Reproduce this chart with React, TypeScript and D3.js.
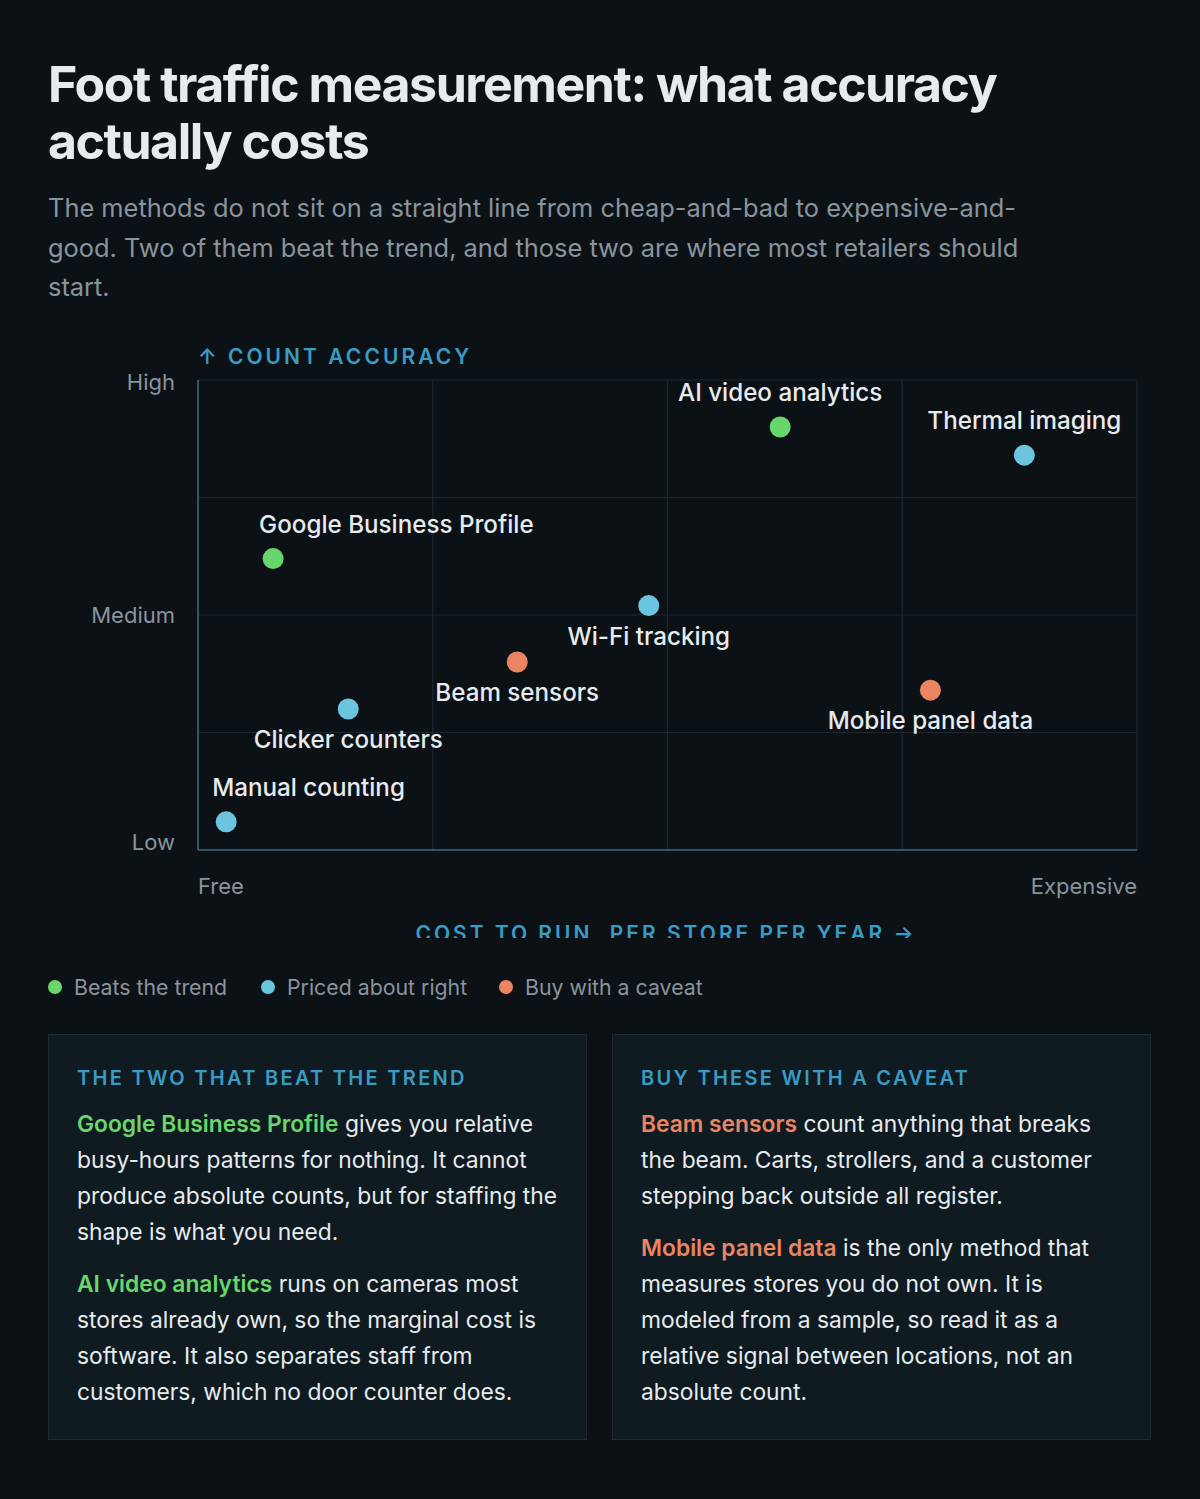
import React from "react";
import * as d3 from "d3";

const methods = [
  "AI video analytics",
  "Thermal imaging",
  "Google Business Profile",
  "Wi-Fi tracking",
  "Beam sensors",
  "Mobile panel data",
  "Clicker counters",
  "Manual counting",
];
const costValues = [62, 88, 8, 48, 34, 78, 16, 3];
const accuracyValues = [90, 84, 62, 52, 40, 34, 30, 6];
const verdicts = ["beats", "about", "beats", "about", "caveat", "caveat", "about", "about"];

const verdictKeys = ["beats", "about", "caveat"];
const verdictLabels = ["Beats the trend", "Priced about right", "Buy with a caveat"];

const yTickLabels = ["Low", "Medium", "High"];
const yTickValues = [0, 50, 100];
const xTickLabels = ["Free", "Expensive"];

const titleLines = ["Foot traffic measurement: what accuracy", "actually costs"];
const subtitleLines = [
  "The methods do not sit on a straight line from cheap-and-bad to expensive-and-",
  "good. Two of them beat the trend, and those two are where most retailers should",
  "start.",
];

const leftCardTitle = "THE TWO THAT BEAT THE TREND";
const leftCardParas = [
  { lead: "Google Business Profile", lines: [" gives you relative", "busy-hours patterns for nothing. It cannot", "produce absolute counts, but for staffing the", "shape is what you need."] },
  { lead: "AI video analytics", lines: [" runs on cameras most", "stores already own, so the marginal cost is", "software. It also separates staff from", "customers, which no door counter does."] },
];
const rightCardTitle = "BUY THESE WITH A CAVEAT";
const rightCardParas = [
  { lead: "Beam sensors", lines: [" count anything that breaks", "the beam. Carts, strollers, and a customer", "stepping back outside all register."] },
  { lead: "Mobile panel data", lines: [" is the only method that", "measures stores you do not own. It is", "modeled from a sample, so read it as a", "relative signal between locations, not an", "absolute count."] },
];

// label placement per method: "above", "aboveStart", "below"
const labelPlacement = ["above", "above", "aboveStart", "below", "below", "below", "below", "aboveStart"];

const COLORS: Record<string, string> = {
  beats: "#69d66b",
  about: "#6cc5df",
  caveat: "#e98562",
};

const FONT = "Inter, 'Noto Sans', sans-serif";
const BG = "#0c1115";
const TEXT = "#e6ebef";
const MUTED = "#8a949d";
const ACCENT = "#3a9cc4";

export default function App() {
  const W = 1200;
  const H = 1499;
  const plot = { left: 198, right: 1137, top: 380, bottom: 850 };
  const x = d3.scaleLinear().domain([0, 100]).range([plot.left, plot.right]);
  const y = d3.scaleLinear().domain([0, 100]).range([plot.bottom, plot.top]);
  const gridTicks = [0, 25, 50, 75, 100];
  const yTickOffsets = [0, 8, 10];

  const renderCard = (cx: number, title: string, paras: typeof leftCardParas, color: string) => {
    let lineIdx = 0;
    const out: React.ReactNode[] = [];
    paras.forEach((p, pi) => {
      p.lines.forEach((ln, li) => {
        const baseY = 1132 + lineIdx * 36 + pi * 16;
        out.push(
          <text key={`${pi}-${li}`} x={cx + 29} y={baseY} fontSize={22.8} fill={TEXT} fontFamily={FONT}>
            {li === 0 ? (
              <>
                <tspan fill={color} fontWeight={600}>{p.lead}</tspan>
                <tspan>{ln}</tspan>
              </>
            ) : (
              ln
            )}
          </text>
        );
        lineIdx++;
      });
    });
    return (
      <g>
        <rect x={cx + 0.5} y={1034.5} width={538} height={405} fill="#101b21" stroke="#1c2a31" strokeWidth={1} />
        <text x={cx + 29} y={1085} fontSize={20} fontWeight={600} fill={ACCENT} letterSpacing={2.3} fontFamily={FONT}>
          {title}
        </text>
        {out}
      </g>
    );
  };

  return (
    <div style={{ position: "absolute", left: 0, top: 0, width: W, height: H, background: BG }}>
      <svg width={W} height={H} viewBox={`0 0 ${W} ${H}`} style={{ display: "block" }}>
        <rect x={0} y={0} width={W} height={H} fill={BG} />
        <defs>
          <clipPath id="chartClip">
            <rect x={0} y={300} width={W} height={638} />
          </clipPath>
        </defs>

        {titleLines.map((t, i) => (
          <text key={t} x={48} y={102 + i * 57} fontSize={50} fontWeight={700} fill={TEXT} letterSpacing={-1.45} fontFamily={FONT}>
            {t}
          </text>
        ))}
        {subtitleLines.map((t, i) => (
          <text key={t} x={48} y={217 + i * 39.5} fontSize={25.4} fill={MUTED} fontFamily={FONT}>
            {t}
          </text>
        ))}

        <g clipPath="url(#chartClip)">
          <text x={198} y={364} fontSize={21} fontWeight={600} fill={ACCENT} letterSpacing={3.05} fontFamily={FONT}>
            ↑ COUNT ACCURACY
          </text>

          {gridTicks.map((t) => (
            <line key={`gx${t}`} x1={x(t)} x2={x(t)} y1={plot.top} y2={plot.bottom} stroke="#1d282e" strokeWidth={1.2} />
          ))}
          {gridTicks.map((t) => (
            <line key={`gy${t}`} x1={plot.left} x2={plot.right} y1={y(t)} y2={y(t)} stroke="#1d282e" strokeWidth={1.2} />
          ))}
          <line x1={plot.left} x2={plot.left} y1={plot.top} y2={plot.bottom} stroke="#2e5569" strokeWidth={2} />
          <line x1={plot.left} x2={plot.right} y1={plot.bottom} y2={plot.bottom} stroke="#2e5569" strokeWidth={2} />

          {yTickLabels.map((l, i) => (
            <text key={l} x={175} y={y(yTickValues[i]) + yTickOffsets[i]} textAnchor="end" fontSize={22} fill={MUTED} fontFamily={FONT}>
              {l}
            </text>
          ))}
          <text x={x(0)} y={894} fontSize={22} fill={MUTED} fontFamily={FONT}>
            {xTickLabels[0]}
          </text>
          <text x={x(100)} y={894} textAnchor="end" fontSize={22} fill={MUTED} fontFamily={FONT}>
            {xTickLabels[1]}
          </text>

          {methods.map((m, i) => {
            const px = x(costValues[i]);
            const py = y(accuracyValues[i]);
            const place = labelPlacement[i];
            const lx = place === "aboveStart" ? px - 14 : px;
            const ly = place === "below" ? py + 39 : py - 26;
            return (
              <g key={m}>
                <circle cx={px} cy={py} r={10.5} fill={COLORS[verdicts[i]]} />
                <text
                  x={lx}
                  y={ly}
                  textAnchor={place === "aboveStart" ? "start" : "middle"}
                  fontSize={24.2}
                  fontWeight={500}
                  fill={TEXT}
                  fontFamily={FONT}
                >
                  {m}
                </text>
              </g>
            );
          })}

          <text x={666} y={941} textAnchor="middle" fontSize={21} fontWeight={600} fill={ACCENT} letterSpacing={2.97} fontFamily={FONT}>
            COST TO RUN, PER STORE PER YEAR →
          </text>
        </g>

        {(() => {
          const starts = [48, 261, 499];
          return verdictKeys.map((k, i) => (
            <g key={k}>
              <circle cx={starts[i] + 7} cy={987} r={7} fill={COLORS[k]} />
              <text x={starts[i] + 26} y={995} fontSize={21.3} fill={MUTED} fontFamily={FONT}>
                {verdictLabels[i]}
              </text>
            </g>
          ));
        })()}

        {renderCard(48, leftCardTitle, leftCardParas, COLORS.beats)}
        {renderCard(612, rightCardTitle, rightCardParas, COLORS.caveat)}
      </svg>
    </div>
  );
}
